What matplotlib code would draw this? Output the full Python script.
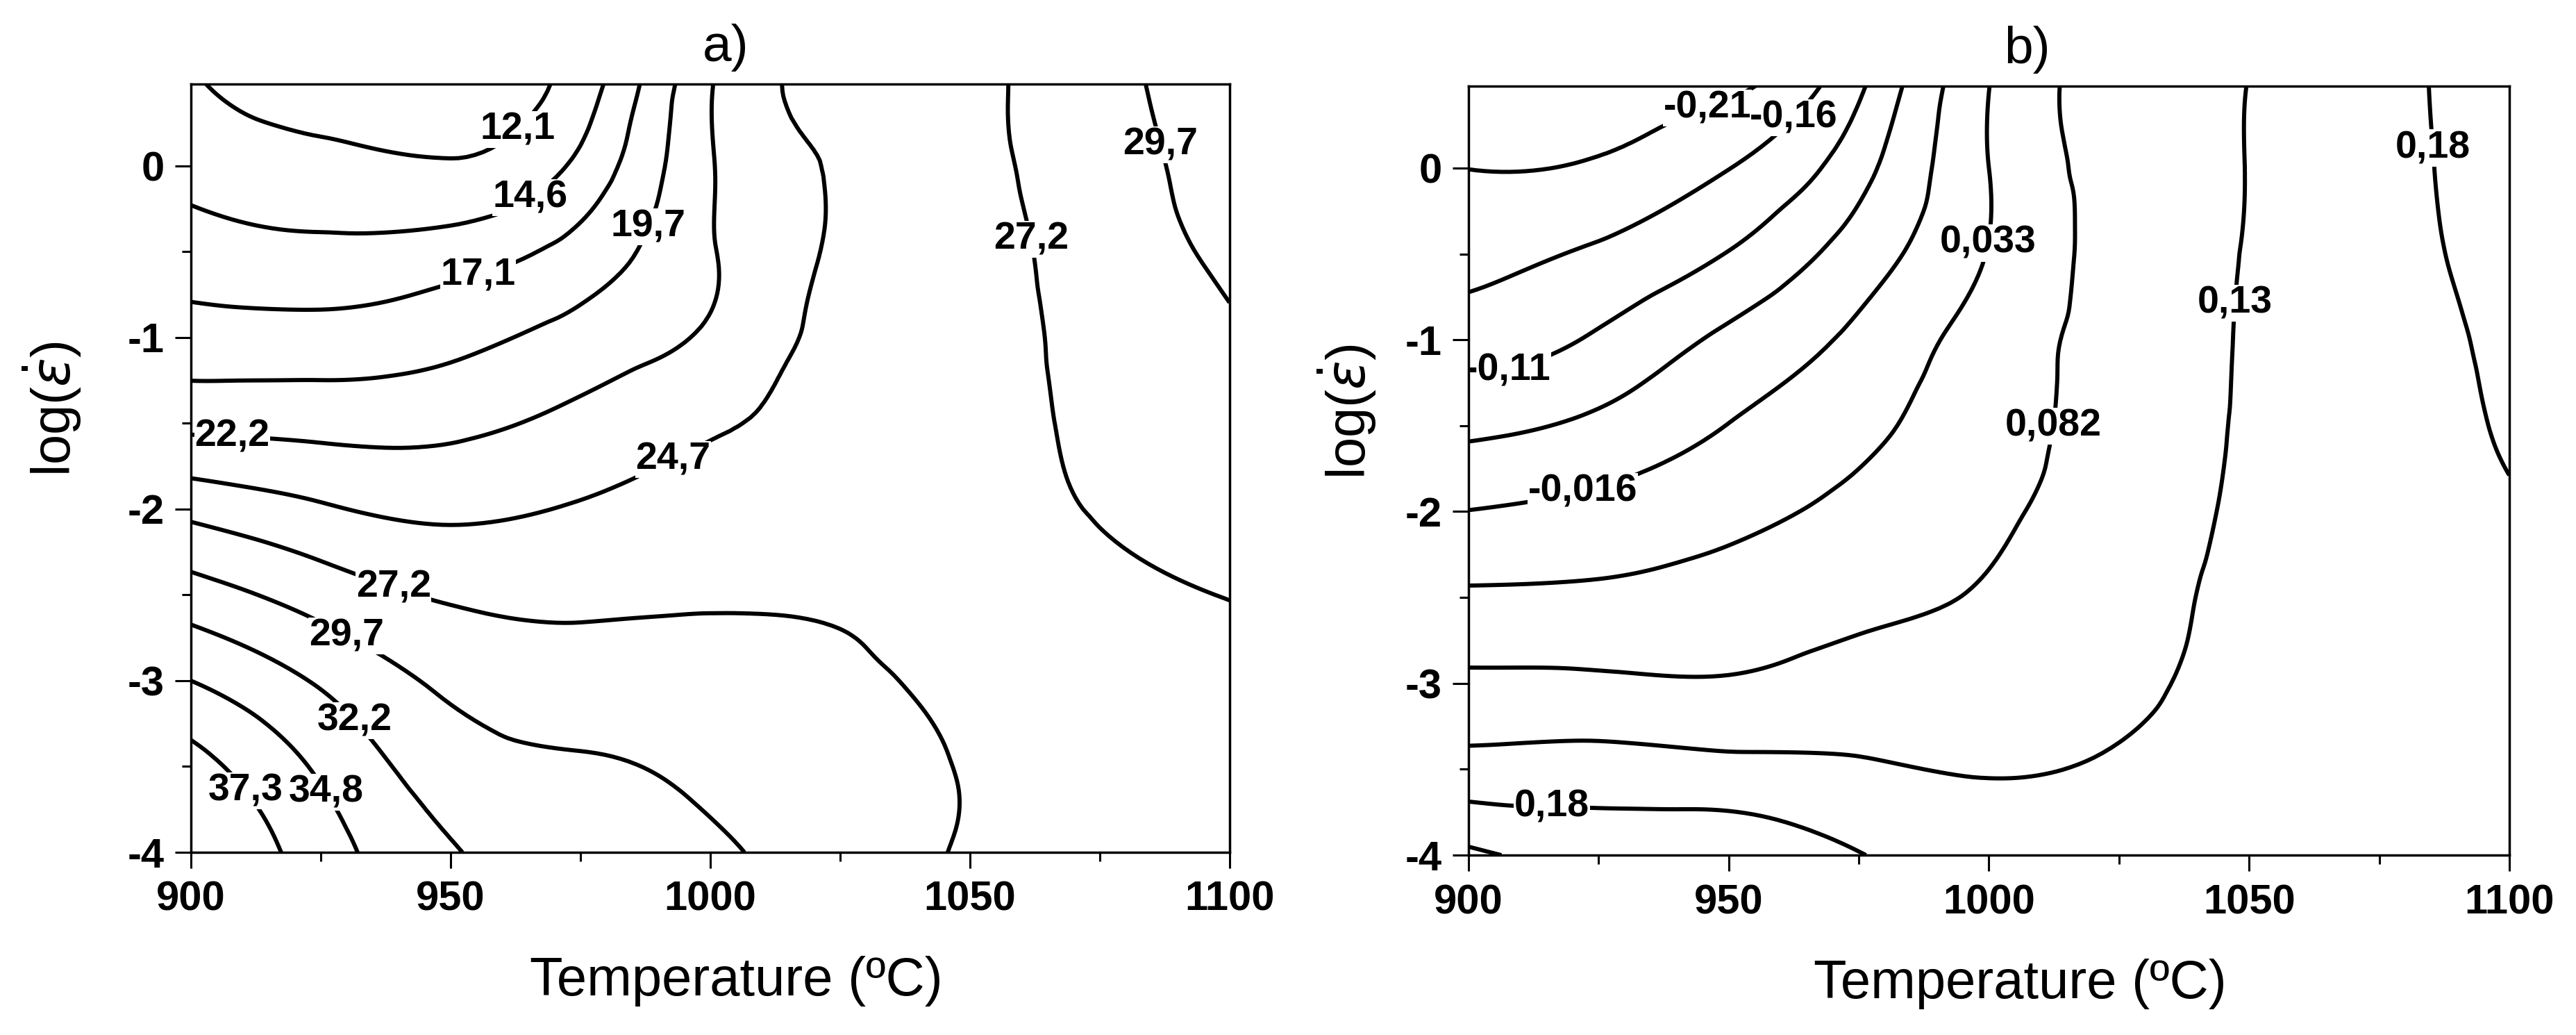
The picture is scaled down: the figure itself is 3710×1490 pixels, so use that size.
import numpy as np
import matplotlib
matplotlib.use("Agg")
import matplotlib.pyplot as plt
import matplotlib.tri as mtri
from matplotlib.ticker import MultipleLocator

plt.rcParams['font.family'] = ['Liberation Sans', 'DejaVu Sans']
plt.rcParams['axes.unicode_minus'] = False

# grid nodes: temperature (C) and log strain rate
temps = [900, 925, 950, 975, 1000, 1025, 1050, 1075, 1100]
log_rates = [-4.0, -3.5, -3.0, -2.5, -2.0, -1.5, -1.0, -0.5, 0.0, 0.5]

# a) efficiency of power dissipation (%), one row per log strain rate
eff = [
    [40.0, 36.0, 32.4, 31.2, 30.1, 28.5, 27.0, 26.4, 25.9],
    [38.2, 34.4, 30.9, 30.0, 29.1, 28.0, 27.1, 26.5, 26.2],
    [34.8, 31.9, 29.2, 28.3, 28.1, 27.6, 26.7, 26.3, 26.6],
    [30.8, 28.6, 26.9, 26.7, 26.9, 26.8, 26.3, 26.7, 27.25],
    [26.5, 25.0, 24.2, 24.9, 25.5, 25.8, 26.5, 27.3, 28.0],
    [21.6, 21.4, 21.6, 22.9, 24.4, 25.5, 26.5, 27.6, 28.7],
    [18.2, 18.1, 18.9, 20.6, 22.6, 25.5, 26.5, 27.9, 29.4],
    [15.7, 15.2, 15.8, 18.1, 22.0, 25.0, 26.4, 28.2, 30.2],
    [13.8, 12.8, 12.3, 15.2, 22.0, 24.9, 26.6, 28.4, 31.2],
    [12.3, 10.9, 11.3, 13.2, 22.0, 25.3, 26.6, 28.8, 31.5],
]

# b) instability parameter
inst = [
    [0.240, 0.215, 0.220, 0.182, 0.160, 0.150, 0.150, 0.152, 0.155],
    [0.149, 0.151, 0.145, 0.136, 0.127, 0.135, 0.145, 0.150, 0.155],
    [0.091, 0.090, 0.086, 0.100, 0.105, 0.120, 0.143, 0.152, 0.160],
    [0.040, 0.042, 0.052, 0.070, 0.086, 0.112, 0.140, 0.153, 0.165],
    [-0.015, -0.002, 0.019, 0.046, 0.074, 0.105, 0.137, 0.155, 0.175],
    [-0.077, -0.054, -0.015, 0.021, 0.063, 0.100, 0.135, 0.158, 0.185],
    [-0.135, -0.104, -0.055, -0.005, 0.055, 0.099, 0.134, 0.160, 0.190],
    [-0.177, -0.152, -0.108, -0.042, 0.035, 0.100, 0.132, 0.163, 0.197],
    [-0.2105, -0.204, -0.161, -0.081, 0.033, 0.100, 0.131, 0.165, 0.200],
    [-0.240, -0.235, -0.225, -0.120, 0.032, 0.102, 0.1305, 0.166, 0.202],
]

eff_levels = [12.1, 14.6, 17.1, 19.7, 22.2, 24.7, 27.2, 29.7, 32.2, 34.8, 37.3]
inst_levels = [-0.21, -0.16, -0.11, -0.065, -0.016, 0.033, 0.082, 0.13, 0.18, 0.23]

# where the labels sit (T, log rate)
eff_label_pos = [(960.5, 0.29), (964, -0.12), (955.7, -0.68), (993, -0.42),
                 (908, -1.57), (994.5, -1.81), (1061.7, -0.43), (1084, 0.10),
                 (939, -2.46), (929.6, -2.76), (931, -3.25), (926.5, -3.64),
                 (910.7, -3.64)]
inst_label_pos = [(947.7, 0.21), (963.3, 0.27), (908.2, -1.24), (921.8, -1.87),
                  (998.7, -0.43), (1011.7, -1.5), (1048.4, -0.79), (1084.5, 0.115),
                  (916, -3.71)]


def smooth_grid(z):
    iu = np.arange(len(temps))
    iv = np.arange(len(log_rates))
    u, v = np.meshgrid(iu, iv)
    tri = mtri.Triangulation(u.ravel(), v.ravel())
    refiner = mtri.UniformTriRefiner(tri)
    tri_f, z_f = refiner.refine_field(np.ravel(z), subdiv=4)
    x = np.interp(tri_f.x, iu, temps)
    y = np.interp(tri_f.y, iv, log_rates)
    return mtri.Triangulation(x, y, tri_f.triangles), z_f


def draw_panel(ax, z, levels, label_pos, fmt, title, title_x, xlab_x, ylab_x):
    tri_f, z_f = smooth_grid(z)
    cs = ax.tricontour(tri_f, z_f, levels=levels, colors='black',
                       linewidths=4.3, linestyles='solid')
    txts = ax.clabel(cs, manual=label_pos, inline=False, fmt=fmt, fontsize=40)
    for t in txts:
        t.set_rotation(0)
        t.set_fontweight('bold')
        t.set_bbox(dict(facecolor='white', edgecolor='none', pad=0.5))
        t.set_zorder(2.3)

    ax.set_xlim(900, 1100)
    ax.set_ylim(-4, np.log10(3))
    ax.xaxis.set_major_locator(MultipleLocator(50))
    ax.xaxis.set_minor_locator(MultipleLocator(25))
    ax.yaxis.set_major_locator(MultipleLocator(1))
    ax.yaxis.set_minor_locator(MultipleLocator(0.5))
    ax.tick_params(which='major', direction='out', length=16.5, width=2.2,
                   labelsize=43, pad=13)
    ax.tick_params(which='minor', direction='out', length=9.5, width=2.2)
    ax.tick_params(axis='y', which='major', pad=11)
    for lbl in ax.get_xticklabels() + ax.get_yticklabels():
        lbl.set_fontweight('bold')
    for sp in ax.spines.values():
        sp.set_linewidth(2.5)

    ax.set_xlabel('Temperature (ºC)', fontsize=56)
    ax.xaxis.set_label_coords(xlab_x, -0.135)
    ax.set_ylabel(r'log($\dot{\varepsilon}$)', fontsize=56)
    ax.yaxis.set_label_coords(ylab_x, 0.577)
    ax.set_title(title, fontsize=54, x=title_x, pad=24)


fig = plt.figure(figsize=(37.1, 14.9), dpi=100)
ax1 = fig.add_axes([0.0741, 0.1765, 0.4032, 0.7423])
ax2 = fig.add_axes([0.5701, 0.1738, 0.4040, 0.7430])

draw_panel(ax1, eff, eff_levels, eff_label_pos,
           lambda v: f'{v:.1f}'.replace('.', ','), 'a)', 0.515, 0.525, -0.1036)
draw_panel(ax2, inst, inst_levels, inst_label_pos,
           lambda v: f'{v:.2g}'.replace('.', ','), 'b)', 0.537, 0.530, -0.0867)

fig.savefig('out.png', dpi=100, facecolor='white')
